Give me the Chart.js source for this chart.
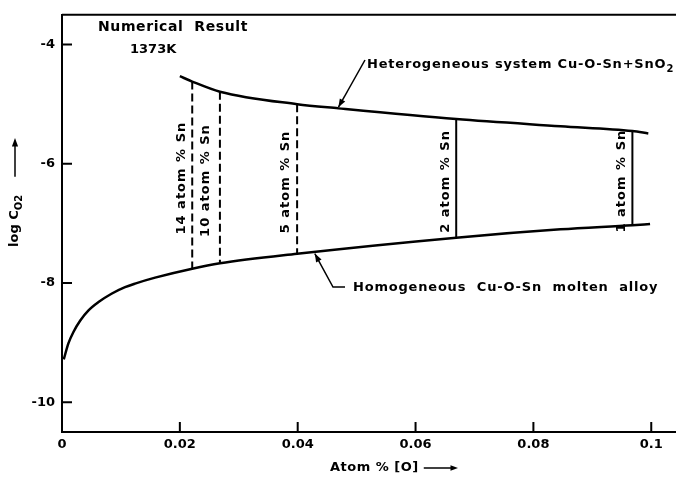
<!DOCTYPE html>
<html>
<head>
<meta charset="utf-8">
<script src="https://cdn.jsdelivr.net/npm/chart.js@4.4.0/dist/chart.umd.min.js"></script>
<style>
  body { margin: 0; background: #fff; }
  canvas { display: block; }
</style>
</head>
<body>
<canvas id="chart" width="676" height="477"></canvas>
<script>
// axis ticks
const xTicks = [0, 0.02, 0.04, 0.06, 0.08, 0.1];
const xTickLabels = ['0', '0.02', '0.04', '0.06', '0.08', '0.1'];
const yTicks = [-10, -8, -6, -4];
const yTickLabels = ['-10', '-8', '-6', '-4'];

// Heterogeneous system Cu-O-Sn+SnO2 (upper curve)
const heteroX = [0.020, 0.0221, 0.0268, 0.0399, 0.0469, 0.0669, 0.0846, 0.0968, 0.0995];
const heteroY = [-4.53, -4.62, -4.79, -5.00, -5.07, -5.25, -5.37, -5.45, -5.49];

// Homogeneous Cu-O-Sn molten alloy (lower curve)
const homoX = [0.0003, 0.0011, 0.0019, 0.0031, 0.0045, 0.0062, 0.0084, 0.0107, 0.0124, 0.0158, 0.0221, 0.0268, 0.0399, 0.0669, 0.0846, 0.0968, 0.0998];
const homoY = [-9.28, -9.01, -8.83, -8.63, -8.46, -8.32, -8.18, -8.07, -8.01, -7.91, -7.76, -7.67, -7.51, -7.24, -7.10, -7.03, -7.01];

// tie lines, atom % Sn
const snLabels = ['14 atom % Sn', '10 atom % Sn', '5 atom % Sn', '2 atom % Sn', '1 atom % Sn'];
const snX = [0.0221, 0.0268, 0.0399, 0.0669, 0.0968];
const snTop = [-4.62, -4.79, -5.00, -5.25, -5.45];
const snBottom = [-7.76, -7.67, -7.51, -7.24, -7.03];

const FONT = 'DejaVu Sans';

function toPoints(xs, ys) {
    return xs.map(function (x, i) { return { x: x, y: ys[i] }; });
}

const datasets = [
    {
        label: 'Heterogeneous system Cu-O-Sn+SnO2',
        data: toPoints(heteroX, heteroY),
        borderColor: '#000',
        borderWidth: 2.5,
        pointRadius: 0,
        cubicInterpolationMode: 'monotone'
    },
    {
        label: 'Homogeneous Cu-O-Sn molten alloy',
        data: toPoints(homoX, homoY),
        borderColor: '#000',
        borderWidth: 2.5,
        pointRadius: 0,
        cubicInterpolationMode: 'monotone'
    }
];

snX.forEach(function (x, i) {
    datasets.push({
        label: snLabels[i],
        data: [{ x: x, y: snTop[i] }, { x: x, y: snBottom[i] }],
        borderColor: '#000',
        borderWidth: 2,
        borderDash: i < 3 ? [8, 4] : [],
        pointRadius: 0
    });
});

function arrowHead(ctx, fromX, fromY, toX, toY, size) {
    const a = Math.atan2(toY - fromY, toX - fromX);
    ctx.beginPath();
    ctx.moveTo(toX, toY);
    ctx.lineTo(toX - size * Math.cos(a - 0.35), toY - size * Math.sin(a - 0.35));
    ctx.lineTo(toX - size * Math.cos(a + 0.35), toY - size * Math.sin(a + 0.35));
    ctx.closePath();
    ctx.fill();
}

// text followed by a subscript, left aligned, middle baseline
function subText(ctx, main, sub, x, y, size) {
    ctx.font = 'bold ' + size + 'px "' + FONT + '"';
    ctx.textAlign = 'left';
    ctx.textBaseline = 'middle';
    ctx.fillText(main, x, y);
    const w = ctx.measureText(main).width;
    ctx.font = 'bold ' + (size - 3) + 'px "' + FONT + '"';
    ctx.fillText(sub, x + w, y + 4);
    return w + ctx.measureText(sub).width;
}

const decorations = {
    id: 'decorations',
    afterDraw: function (chart) {
        const ctx = chart.ctx;
        const area = chart.chartArea;
        const xs = chart.scales.x;
        const ys = chart.scales.y;
        ctx.save();
        ctx.strokeStyle = '#000';
        ctx.fillStyle = '#000';

        // top frame
        ctx.lineWidth = 2;
        ctx.beginPath();
        ctx.moveTo(area.left, area.top);
        ctx.lineTo(area.right, area.top);
        ctx.stroke();

        // inner tick marks
        ctx.beginPath();
        xTicks.forEach(function (v) {
            const px = xs.getPixelForValue(v);
            ctx.moveTo(px, area.bottom);
            ctx.lineTo(px, area.bottom - 10);
        });
        yTicks.forEach(function (v) {
            const py = ys.getPixelForValue(v);
            ctx.moveTo(area.left, py);
            ctx.lineTo(area.left + 10, py);
        });
        ctx.stroke();

        ctx.letterSpacing = '1px';

        // tie line labels, rotated
        ctx.font = 'bold 13px "' + FONT + '"';
        ctx.textAlign = 'center';
        ctx.textBaseline = 'middle';
        snX.forEach(function (x, i) {
            const px = xs.getPixelForValue(x) - (i === 1 ? 14 : 11);
            const py = (ys.getPixelForValue(snTop[i]) + ys.getPixelForValue(snBottom[i])) / 2 + 3;
            ctx.save();
            ctx.translate(px, py);
            ctx.rotate(-Math.PI / 2);
            ctx.fillText(snLabels[i], 0, 0);
            ctx.restore();
        });

        // header
        ctx.letterSpacing = '0.6px';
        ctx.font = 'bold 14px "' + FONT + '"';
        ctx.textAlign = 'left';
        ctx.fillText('Numerical  Result', 98, 27);
        ctx.letterSpacing = '0px';
        ctx.font = 'bold 13px "' + FONT + '"';
        ctx.fillText('1373K', 130, 50);

        // heterogeneous label and arrow
        ctx.letterSpacing = '0.8px';
        subText(ctx, 'Heterogeneous system Cu-O-Sn+SnO', '2', 367, 65, 13);
        const hx = xs.getPixelForValue(heteroX[4]);
        const hy = ys.getPixelForValue(heteroY[4]) - 1;
        ctx.lineWidth = 1.5;
        ctx.beginPath();
        ctx.moveTo(365, 60);
        ctx.lineTo(hx, hy);
        ctx.stroke();
        arrowHead(ctx, 365, 60, hx, hy, 9);

        // homogeneous label and leader
        ctx.font = 'bold 13px "' + FONT + '"';
        ctx.textAlign = 'left';
        ctx.fillText('Homogeneous  Cu-O-Sn  molten  alloy', 353, 288);
        const lx = xs.getPixelForValue(0.0429);
        const ly = ys.getPixelForValue(-7.49) + 1;
        ctx.beginPath();
        ctx.moveTo(345, 287);
        ctx.lineTo(333, 287);
        ctx.lineTo(lx, ly);
        ctx.stroke();
        arrowHead(ctx, 333, 287, lx, ly, 9);

        // x title
        ctx.letterSpacing = '0.5px';
        ctx.font = 'bold 13px "' + FONT + '"';
        ctx.fillText('Atom % [O]', 330, 468);
        const tw = ctx.measureText('Atom % [O]').width;
        ctx.lineWidth = 1.5;
        ctx.beginPath();
        ctx.moveTo(330 + tw + 5, 468);
        ctx.lineTo(452, 468);
        ctx.stroke();
        arrowHead(ctx, 330 + tw + 5, 468, 458, 468, 8);

        // y title, rotated
        ctx.letterSpacing = '0px';
        ctx.save();
        ctx.translate(15, 247);
        ctx.rotate(-Math.PI / 2);
        const w = subText(ctx, 'log C', 'O2', 0, 0, 13);
        ctx.beginPath();
        ctx.moveTo(w + 18, 0);
        ctx.lineTo(103, 0);
        ctx.stroke();
        arrowHead(ctx, w + 18, 0, 109, 0, 9);
        ctx.restore();

        ctx.restore();
    }
};

const config = {
    type: 'line',
    data: { datasets: datasets },
    options: {
        responsive: false,
        animation: false,
        layout: { padding: { top: 13, right: 0, left: 0, bottom: 0 } },
        plugins: {
            legend: { display: false },
            tooltip: { enabled: false }
        },
        scales: {
            x: {
                type: 'linear',
                min: 0,
                max: 0.1042,
                afterBuildTicks: function (scale) {
                    scale.ticks = xTicks.map(function (v) { return { value: v }; });
                },
                afterFit: function (scale) { scale.height = 45; },
                grid: { display: false, drawTicks: false },
                border: { display: true, color: '#000', width: 2 },
                ticks: {
                    padding: 5,
                    color: '#000',
                    maxRotation: 0,
                    font: { family: FONT, size: 13, weight: 'bold' },
                    callback: function (val, index) { return xTickLabels[index]; }
                }
            },
            y: {
                type: 'linear',
                min: -10.5,
                max: -3.5,
                afterBuildTicks: function (scale) {
                    scale.ticks = yTicks.map(function (v) { return { value: v }; });
                },
                afterFit: function (scale) { scale.width = 62; },
                grid: { display: false, drawTicks: false },
                border: { display: true, color: '#000', width: 2 },
                ticks: {
                    padding: 7,
                    color: '#000',
                    font: { family: FONT, size: 13, weight: 'bold' },
                    callback: function (val, index) { return yTickLabels[index]; }
                }
            }
        }
    },
    plugins: [decorations]
};

new Chart(document.getElementById('chart'), config);
</script>
</body>
</html>
